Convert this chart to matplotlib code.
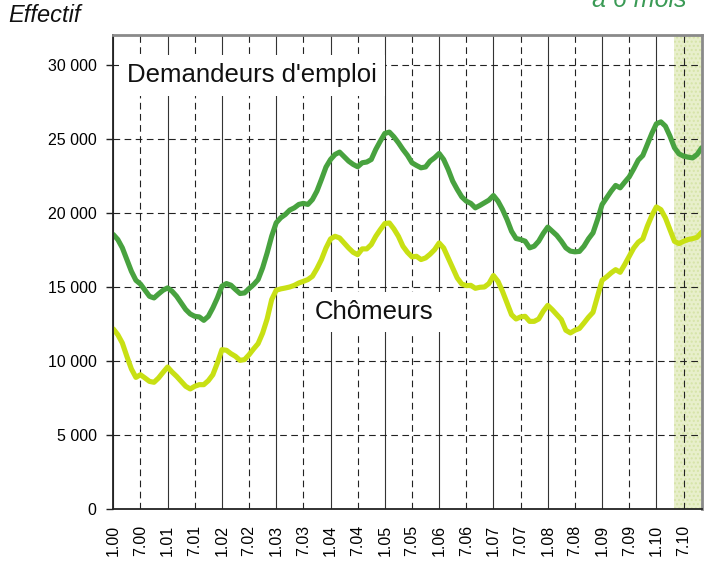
import matplotlib
matplotlib.use("Agg")
import matplotlib.pyplot as plt
from matplotlib.ticker import FixedLocator, FuncFormatter

plt.rcParams['font.family'] = ['Liberation Sans', 'DejaVu Sans']

# Monthly values, January 2000 (index 0) to November 2010 (index 130)
demandeurs = [
    18540, 18200, 17640, 16850, 16060, 15450, 15200, 14780, 14370, 14260, 14530, 14780,
    14940, 14710, 14370, 13920, 13480, 13180, 13020, 12980, 12750, 13020, 13590, 14260,
    15050, 15230, 15120, 14830, 14560, 14600, 14890, 15160, 15500, 16290, 17300, 18430,
    19330, 19670, 19890, 20190, 20340, 20570, 20640, 20570, 20900, 21470, 22260, 23090,
    23600, 23940, 24100, 23790, 23490, 23270, 23110, 23380, 23430, 23600, 24280, 24840,
    25360, 25450, 25130, 24730, 24280, 23880, 23380, 23200, 23040, 23100, 23490, 23720,
    24010, 23600, 22930, 22140, 21580, 21080, 20790, 20640, 20340, 20500, 20680, 20860,
    21170, 20790, 20230, 19550, 18760, 18270, 18200, 18090, 17640, 17750, 18090, 18610,
    19040, 18760, 18480, 18090, 17640, 17420, 17370, 17400, 17750, 18250, 18650, 19550,
    20560, 21010, 21460, 21850, 21690, 22070, 22430, 22970, 23560, 23870, 24610, 25360,
    26010, 26140, 25850, 25180, 24390, 23980, 23830, 23760, 23710, 23940, 24390,
]
chomeurs = [
    12170, 11780, 11220, 10320, 9470, 8900, 9080, 8860, 8630, 8570, 8860, 9240,
    9600, 9260, 8970, 8630, 8300, 8120, 8300, 8410, 8410, 8680, 9080, 9870,
    10770, 10730, 10500, 10320, 10050, 10100, 10430, 10820, 11180, 11890, 12850, 14150,
    14780, 14870, 14930, 15000, 15110, 15270, 15380, 15500, 15720, 16240, 16850, 17630,
    18240, 18420, 18310, 17970, 17630, 17340, 17180, 17570, 17570, 17860, 18420, 18870,
    19280, 19320, 18920, 18420, 17750, 17340, 17030, 17070, 16850, 16960, 17210, 17520,
    17970, 17630, 16960, 16280, 15610, 15200, 15090, 15110, 14910, 14980, 15000, 15230,
    15770, 15380, 14710, 13920, 13130, 12840, 12980, 13020, 12680, 12680, 12840, 13360,
    13760, 13470, 13130, 12800, 12080, 11900, 12080, 12200, 12570, 12960, 13290, 14370,
    15450, 15680, 15950, 16170, 15990, 16510, 17070, 17630, 18020, 18240, 19100, 19820,
    20400, 20220, 19660, 18870, 18080, 17930, 18080, 18200, 18260, 18350, 18690,
]
months = list(range(len(demandeurs)))
tick_labels = [f"{m}.{y:02d}" for y in range(0, 11) for m in (1, 7)]
y_ticks = [0, 5000, 10000, 15000, 20000, 25000, 30000]
forecast_start = 124

fig = plt.figure(figsize=(7.08, 5.72), dpi=100)
ax = fig.add_axes([0.160, 0.1096, 0.831, 0.8292])

ax.axvspan(forecast_start, len(months) - 1, facecolor='#e8efcb', edgecolor='#d6e4a8',
           hatch='....', zorder=0, lw=0)

tick_pos = list(range(0, 6 * len(tick_labels), 6))
for i, p in enumerate(tick_pos):
    if i % 2 == 0:
        ax.axvline(p, color='#333333', lw=0.8, zorder=1)
    else:
        ax.axvline(p, color='#222222', lw=0.8, ls=(0, (6, 4)), zorder=1)
for v in y_ticks[1:]:
    ax.axhline(v, color='#222222', lw=0.8, ls=(0, (6, 4)), zorder=1)

ax.plot(months, demandeurs, color='#48a23f', lw=3.7, zorder=3, solid_capstyle='round')
ax.plot(months, chomeurs, color='#c8e014', lw=3.7, zorder=3, solid_capstyle='round')

ax.set_xlim(0, len(months) - 1)
ax.set_ylim(0, 32000)

ax.xaxis.set_major_locator(FixedLocator(tick_pos))
ax.set_xticklabels(tick_labels, rotation=90, fontsize=11.5)
ax.xaxis.set_minor_locator(FixedLocator(tick_pos[::2]))
ax.tick_params(axis='x', which='major', length=0, pad=11)
ax.tick_params(axis='x', which='minor', length=5, width=1.0, direction='out', color='#222222')

ax.yaxis.set_major_locator(FixedLocator(y_ticks))
ax.yaxis.set_major_formatter(FuncFormatter(lambda v, p: f"{int(v):,}".replace(",", " ")))
ax.tick_params(axis='y', length=5, width=1.0, direction='out', labelsize=11.5, pad=7, color='#222222')

for s in ('top', 'right'):
    ax.spines[s].set_color('#8a8a8a')
    ax.spines[s].set_linewidth(2.0)
for s in ('left', 'bottom'):
    ax.spines[s].set_color('#222222')
    ax.spines[s].set_linewidth(1.3)
for s in ax.spines.values():
    s.set_zorder(4)

box = dict(facecolor='white', edgecolor='none', pad=6)
ax.text(3, 29270, "Demandeurs d'emploi", fontsize=18.5, color='#111111', va='center', zorder=2,
        bbox=box)
ax.text(44.5, 13300, "Chômeurs", fontsize=18.5, color='#111111', va='center', zorder=2,
        bbox=box)

fig.text(8 / 708, 1 - 16 / 572, "Effectif", fontsize=17, style='italic', va='center', color='#111111')
fig.text(686 / 708, 1 - 7 / 572, "à 6 mois", fontsize=18, style='italic', ha='right',
         va='baseline', color='#3a9a55')

fig.savefig("out.png", dpi=100)
